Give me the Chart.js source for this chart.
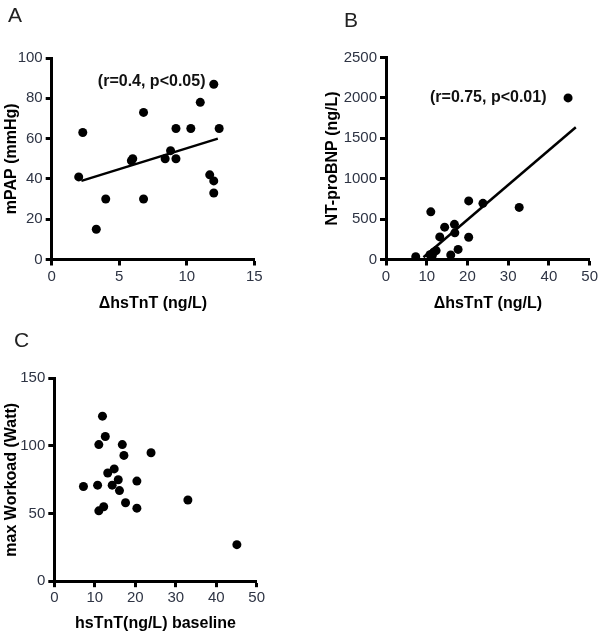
<!DOCTYPE html>
<html>
<head>
<meta charset="utf-8">
<script src="https://cdn.jsdelivr.net/npm/chart.js@4/dist/chart.umd.min.js"></script>
<style>
    body { margin: 0; background: #fff; }
    #wrap { position: relative; width: 600px; height: 636px; overflow: hidden; }
    canvas { position: absolute; }
    .letter { position: absolute; font: 21px/21px "Liberation Sans", Arial, sans-serif; color: #222; }
</style>
</head>
<body>
<div id="wrap">
    <canvas id="chartA" width="300" height="318" style="left:0;top:0"></canvas>
    <canvas id="chartB" width="300" height="318" style="left:300px;top:0"></canvas>
    <canvas id="chartC" width="300" height="318" style="left:0;top:318px"></canvas>
    <div class="letter" style="left:8px;top:4px">A</div>
    <div class="letter" style="left:344px;top:9px">B</div>
    <div class="letter" style="left:14px;top:329px">C</div>
</div>
<script>
(function () {
    "use strict";

    // A: delta hsTnT vs mPAP
    const aX = [2.0, 2.3, 3.3, 4.0, 5.9, 6.0, 6.8, 6.8, 8.4, 8.8, 9.2, 9.2, 10.3, 11.0, 11.7, 12.0, 12.0, 12.0, 12.4];
    const aY = [41, 63, 15, 30, 49, 50, 73, 30, 50, 54, 65, 50, 65, 78, 42, 87, 39, 33, 65];
    const aFitX = [2.2, 12.3];
    const aFitY = [39, 60];

    // B: delta hsTnT vs NT-proBNP
    const bX = [7.3, 10.8, 11.0, 11.3, 11.7, 12.3, 13.2, 14.4, 15.9, 16.8, 16.9, 17.7, 20.3, 20.3, 23.8, 32.7, 44.7];
    const bY = [35, 60, 590, 40, 90, 110, 280, 400, 55, 435, 330, 125, 275, 725, 695, 645, 2000];
    const bFitX = [9.2, 46.6];
    const bFitY = [28, 1637];

    // C: baseline hsTnT vs max workload
    const cX = [7.2, 10.7, 11.0, 12.2, 11.0, 11.9, 12.6, 13.2, 14.3, 14.8, 15.8, 16.1, 16.8, 17.2, 17.6, 20.4, 20.4, 23.9, 33.0, 45.1];
    const cY = [70, 71, 52, 55, 101, 122, 107, 80, 71, 83, 75, 67, 101, 93, 58, 74, 54, 95, 60, 27];

    const tickColor = "#2e3444";
    Chart.defaults.font.family = "'Liberation Sans', Arial, sans-serif";

    function pairs(xs, ys) {
        return xs.map((x, i) => ({ x: x, y: ys[i] }));
    }

    const corrLabel = {
        id: "corrLabel",
        afterDatasetsDraw(chart, args, opts) {
            if (!opts.text) return;
            const ctx = chart.ctx;
            ctx.save();
            ctx.font = "bold 16px 'Liberation Sans', Arial, sans-serif";
            ctx.fillStyle = "#111";
            ctx.textAlign = "center";
            ctx.textBaseline = "middle";
            ctx.fillText(opts.text, chart.scales.x.getPixelForValue(opts.x), chart.scales.y.getPixelForValue(opts.y));
            ctx.restore();
        }
    };

    function axis(min, max, step, title, titlePad, fitSize, horizontal) {
        return {
            type: "linear",
            min: min,
            max: max,
            ticks: {
                stepSize: step, autoSkip: false, maxRotation: 0,
                padding: horizontal ? 2 : 3, color: tickColor, font: { size: 15 },
                callback: value => String(value)
            },
            grid: { display: true, drawOnChartArea: false, drawTicks: true, tickLength: 6, tickWidth: 3, tickColor: "#000" },
            border: { display: true, color: "#000", width: 3 },
            title: {
                display: true, text: title, color: "#000",
                font: { size: 16, weight: "bold" },
                padding: horizontal ? { top: 0, bottom: titlePad } : { top: titlePad, bottom: 0 }
            },
            afterFit: scale => {
                if (horizontal) scale.height = fitSize;
                else scale.width = fitSize;
            }
        };
    }

    function panel(id, cfg) {
        const datasets = [{
            data: pairs(cfg.xs, cfg.ys),
            pointRadius: 4.5,
            pointHoverRadius: 4.5,
            backgroundColor: "#000",
            borderWidth: 0
        }];
        if (cfg.fitX) {
            datasets.push({
                type: "line",
                data: pairs(cfg.fitX, cfg.fitY),
                borderColor: "#000",
                borderWidth: 2.5,
                pointRadius: 0,
                fill: false
            });
        }
        return new Chart(document.getElementById(id).getContext("2d"), {
            type: "scatter",
            data: { datasets: datasets },
            options: {
                responsive: false,
                animation: false,
                layout: { padding: cfg.pad },
                plugins: { legend: { display: false }, tooltip: { enabled: false }, corrLabel: cfg.label || {} },
                scales: { x: cfg.x, y: cfg.y }
            },
            plugins: [corrLabel]
        });
    }

    panel("chartA", {
        xs: aX, ys: aY, fitX: aFitX, fitY: aFitY,
        pad: { left: 0, top: 58, right: 45.7, bottom: 0 },
        x: axis(0, 15, 5, "\u0394hsTnT (ng/L)", 5.1, 58.5, true),
        y: axis(0, 100, 20, "mPAP (mmHg)", 2.4, 51.7, false),
        label: { text: "(r=0.4, p<0.05)", x: 7.4, y: 88.3 }
    });

    panel("chartB", {
        xs: bX, ys: bY, fitX: bFitX, fitY: bFitY,
        pad: { left: 0, top: 57.5, right: 10, bottom: 0 },
        x: axis(0, 50, 10, "\u0394hsTnT (ng/L)", 5.1, 58.5, true),
        y: axis(0, 2500, 500, "NT-proBNP (ng/L)", 22.7, 86, false),
        label: { text: "(r=0.75, p<0.01)", x: 25.1, y: 2002 }
    });

    panel("chartC", {
        xs: cX, ys: cY,
        pad: { left: 0, top: 60.3, right: 43.3, bottom: 0 },
        x: axis(0, 50, 10, "hsTnT(ng/L) baseline", 3.1, 54.8, true),
        y: axis(0, 150, 50, "max Workoad (Watt)", 2.1, 54.3, false)
    });
})();
</script>
</body>
</html>
